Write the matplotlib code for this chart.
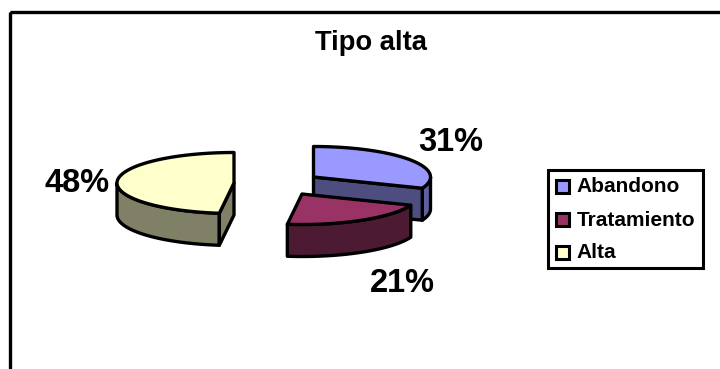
import numpy as np
import matplotlib
matplotlib.use("Agg")
import matplotlib.pyplot as plt
from matplotlib.patches import Polygon, Rectangle

plt.rcParams['font.family'] = ['Liberation Sans', 'DejaVu Sans']

title = "Tipo alta"
categories = ["Abandono", "Tratamiento", "Alta"]
shares = [31, 21, 48]
top_colors = ["#9999FF", "#993366", "#FFFFCC"]
side_colors = ["#4D4D80", "#4D1A33", "#808066"]
rim_colors = ["#6060A0", "#4D1A33", "#808066"]

W, H = 720, 369
apexes = [(313.5, 177), (302, 194), (234, 183)]   # exploded slice apexes (pixels)
RX, RY, DEPTH = 117, 30.5, 32
LW = 2.4

fig = plt.figure(figsize=(W / 100, H / 100), dpi=100)
ax = fig.add_axes([0, 0, 1, 1])
ax.set_xlim(0, W)
ax.set_ylim(H, 0)
ax.axis("off")

ax.add_patch(Rectangle((10, 12), W + 20, H + 20, fill=False, ec="black", lw=2.4, clip_on=True))


def point(apex, th, dy=0):
    return (apex[0] + RX * np.sin(th), apex[1] - RY * np.cos(th) + dy)


def arc(apex, a, b, dy=0, n=80):
    return [point(apex, t, dy) for t in np.linspace(a, b, n)]


def poly(pts, fc, z):
    ax.add_patch(Polygon(pts, closed=True, fc=fc, ec="black", lw=LW, joinstyle="round", zorder=z))


edges = np.cumsum([0] + shares) / sum(shares) * 2 * np.pi
draw_order = [0, 2, 1]
for k, i in enumerate(draw_order):
    a, b = edges[i], edges[i + 1]
    ap = apexes[i]
    z = 2 + k
    # outer rim, front half only
    lo, hi = max(a, np.pi / 2), min(b, 3 * np.pi / 2)
    if hi > lo:
        poly(arc(ap, lo, hi) + arc(ap, hi, lo, DEPTH), rim_colors[i], z)
    # radial walls that face the viewer
    for edge, visible in ((a, np.sin(a) < 0), (b, np.sin(b) > 0)):
        if visible:
            p = point(ap, edge)
            poly([ap, p, (p[0], p[1] + DEPTH), (ap[0], ap[1] + DEPTH)], side_colors[i], z)
    # top face
    poly([ap] + arc(ap, a, b), top_colors[i], z)

ax.text(371, 43, title, ha="center", va="center", fontsize=19.7, fontweight="bold")

pct_pos = [(450.5, 142.5), (402, 283), (77, 183)]
for pos, s in zip(pct_pos, shares):
    ax.text(pos[0], pos[1], f"{s}%", ha="center", va="center", fontsize=23.5, fontweight="bold", color="black")

# legend
ax.add_patch(Rectangle((548, 169.5), 155, 98.5, fc="white", ec="black", lw=2.2, zorder=6))
for i, (name, col) in enumerate(zip(categories, top_colors)):
    yc = 186 + 33 * i
    ax.add_patch(Rectangle((556, yc - 6.5), 13, 13, fc=col, ec="black", lw=2.2, zorder=7))
    ax.text(576.5, yc + 1, name, ha="left", va="center", fontsize=15, fontweight="bold", zorder=7)

fig.savefig("out.png", dpi=100)
